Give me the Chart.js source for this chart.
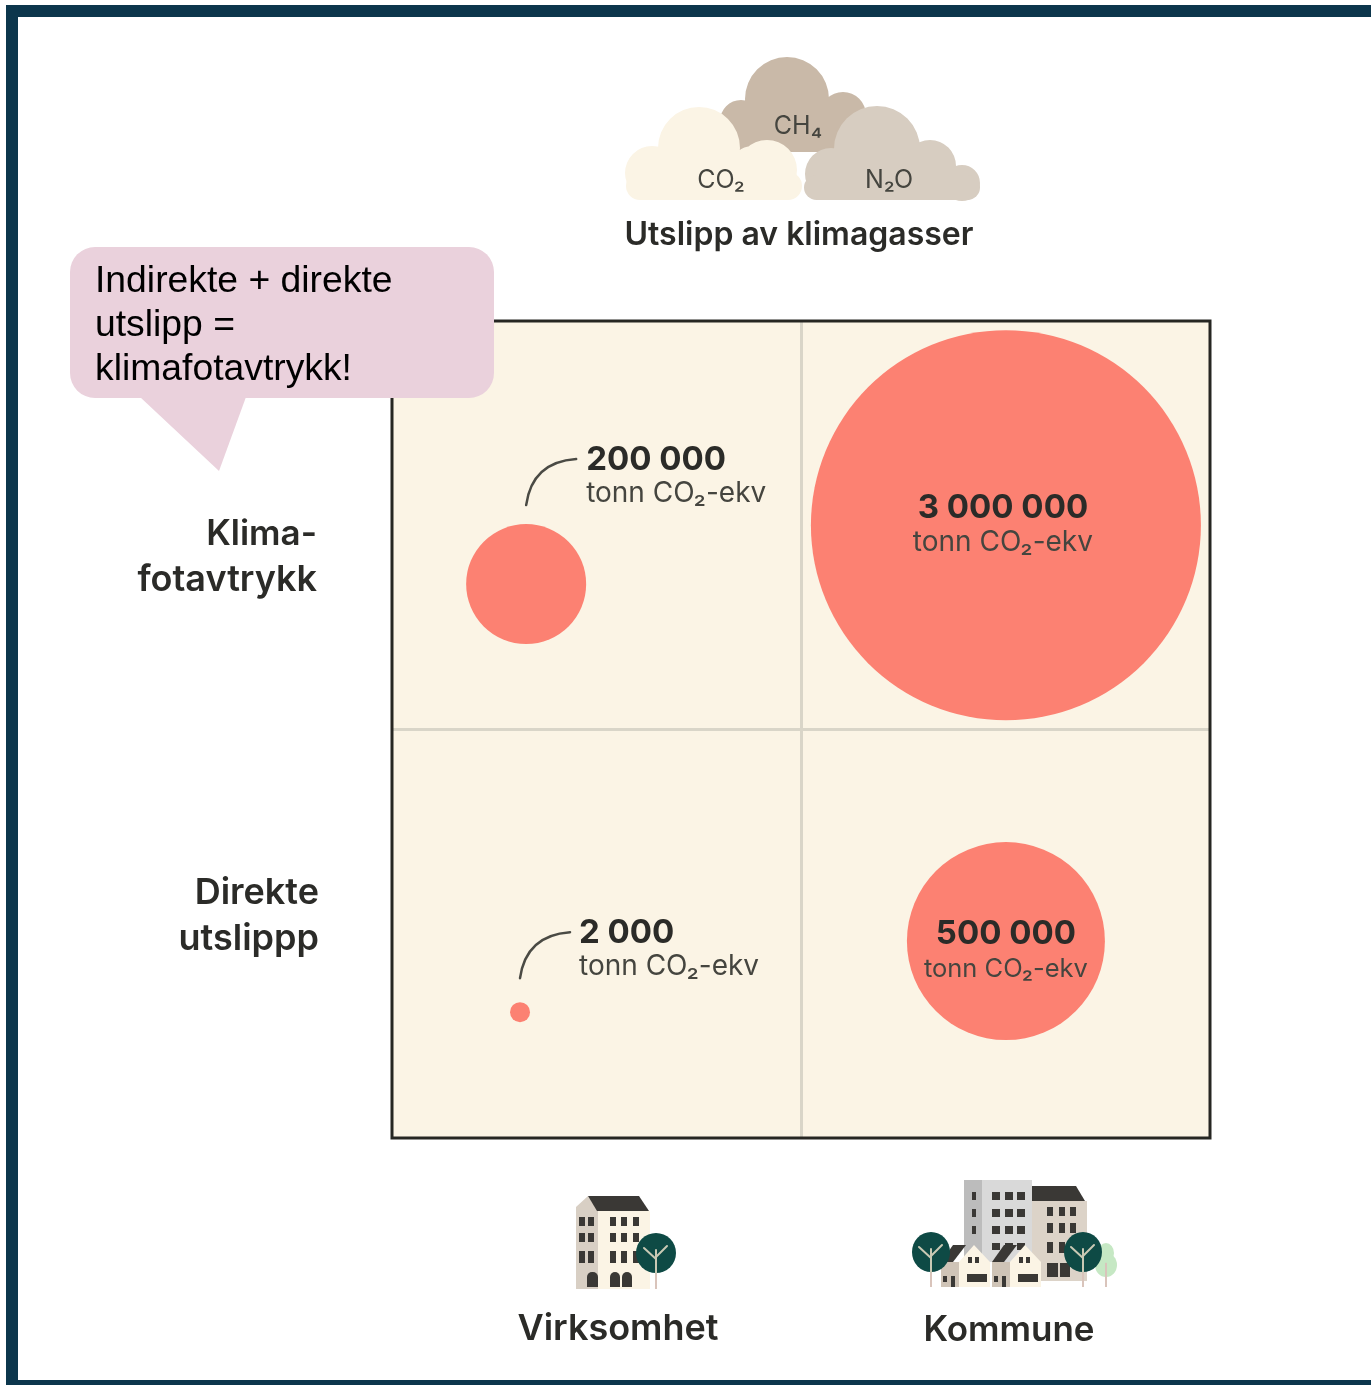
<!DOCTYPE html>
<html lang="no">
<head>
  <meta charset="UTF-8" />
  <title>Utslipp av klimagasser</title>
  <script src="https://cdn.jsdelivr.net/npm/chart.js"></script>
  <style>
    body { margin: 0; background: #fff; }
    canvas { display: block; }
  </style>
</head>
<body>
  <canvas id="footprintChart" width="1371" height="1385"></canvas>

  <script>
    // Values
    const columns = ['Virksomhet', 'Kommune'];
    const rows = [['Klima-', 'fotavtrykk'], ['Direkte', 'utslippp']];
    const valueLabels = ['200 000', '3 000 000', '2 000', '500 000'];
    const bubbleX = [0.328, 1.501, 0.313, 1.501];
    const bubbleY = [1.356, 1.5, 0.308, 0.482];
    const bubbleR = [60, 195, 10, 99];
    const unit = 'tonn CO₂-ekv';
    const calloutLines = ['Indirekte + direkte', 'utslipp =', 'klimafotavtrykk!'];

    const FONT = 'Inter, "Noto Sans", sans-serif';
    const INK = '#2b2b28';
    const SOFT = '#45453f';

    function text(ctx, str, x, y, font, color, align = 'left', spacing = '0px') {
      ctx.font = font;
      ctx.fillStyle = color;
      ctx.textAlign = align;
      ctx.textBaseline = 'alphabetic';
      ctx.letterSpacing = spacing;
      ctx.fillText(str, x, y);
      ctx.letterSpacing = '0px';
    }

    function poly(ctx, color, pts) {
      ctx.fillStyle = color;
      ctx.beginPath();
      pts.forEach((p, i) => i ? ctx.lineTo(p[0], p[1]) : ctx.moveTo(p[0], p[1]));
      ctx.closePath();
      ctx.fill();
    }

    function box(ctx, color, x0, y0, x1, y1) {
      ctx.fillStyle = color;
      ctx.fillRect(x0, y0, x1 - x0, y1 - y0);
    }

    function blob(ctx, color, circles, rects) {
      ctx.fillStyle = color;
      ctx.beginPath();
      circles.forEach(c => { ctx.moveTo(c[0] + c[2], c[1]); ctx.arc(c[0], c[1], c[2], 0, Math.PI * 2); });
      ctx.fill();
      rects.forEach(r => {
        ctx.beginPath();
        ctx.roundRect(r[0], r[1], r[2] - r[0], r[3] - r[1], r[4] || 0);
        ctx.fill();
      });
    }

    function drawClouds(ctx) {
      blob(ctx, '#c9b9a8',
        [[787, 99, 42], [741, 121, 21], [843, 115, 23]],
        [[722, 117, 866, 140, 0], [730, 130, 845, 152, 10]]);
      blob(ctx, '#fbf4e5',
        [[699, 148, 41], [652, 173, 27], [767, 170, 30], [752, 166, 20]],
        [[626, 172, 802, 200, 14], [700, 165, 770, 190, 0]]);
      blob(ctx, '#d7cdc1',
        [[877, 149, 43], [831, 174, 26], [930, 166, 26], [962, 183, 18]],
        [[804, 175, 980, 200, 14], [840, 160, 945, 190, 0]]);
      text(ctx, 'CH₄', 798, 134, '400 25px ' + FONT, SOFT, 'center');
      text(ctx, 'CO₂', 721, 188, '400 25px ' + FONT, SOFT, 'center');
      text(ctx, 'N₂O', 889, 188, '400 25px ' + FONT, SOFT, 'center');
      text(ctx, 'Utslipp av klimagasser', 799, 245, '600 32px ' + FONT, INK, 'center');
    }

    function windows(ctx, xs, ys, w, color = '#3a3835') {
      ys.forEach(y => xs.forEach(x => box(ctx, color, x, y[0], x + w, y[1])));
    }

    function tree(ctx, x, y, rx, ry, bottom, green, trunk) {
      box(ctx, '#d9c4bb', x - 1, y, x + 1, bottom);
      ctx.fillStyle = green;
      ctx.beginPath();
      ctx.ellipse(x, y, rx, ry, 0, 0, Math.PI * 2);
      ctx.fill();
      if (!trunk) return;
      ctx.strokeStyle = trunk;
      ctx.lineWidth = 2;
      ctx.beginPath();
      ctx.moveTo(x, y + ry); ctx.lineTo(x, y - 3);
      ctx.moveTo(x, y + 6); ctx.lineTo(x - 12, y - 5);
      ctx.moveTo(x, y + 4); ctx.lineTo(x + 11, y - 7);
      ctx.stroke();
    }

    function drawOffice(ctx) {
      poly(ctx, '#d8cfc4', [[576, 1207], [588, 1196], [598, 1211], [598, 1289], [576, 1289]]);
      box(ctx, '#fbf4e5', 598, 1211, 650, 1289);
      poly(ctx, '#3a3835', [[588, 1196], [639, 1196], [649, 1211], [597, 1211]]);
      const rowsY = [[1217, 1226], [1233, 1242], [1251, 1263]];
      windows(ctx, [579, 588, 610, 621, 633], rowsY, 6);
      [[587, 1272], [610, 1272], [622, 1272]].forEach(d => {
        ctx.fillStyle = '#3a3835';
        ctx.beginPath();
        ctx.roundRect(d[0], d[1], d[0] === 587 ? 11 : 10, 15, [5, 5, 0, 0]);
        ctx.fill();
      });
      tree(ctx, 656, 1253, 20, 20, 1289, '#0e4a45', '#c9c9b4');
    }

    function drawHouse(ctx, dx) {
      box(ctx, '#cfc4b7', 941 + dx, 1262, 960 + dx, 1287);
      poly(ctx, '#fbf4e5', [[959 + dx, 1262], [974 + dx, 1245], [990 + dx, 1262], [990 + dx, 1287], [959 + dx, 1287]]);
      poly(ctx, '#3a3835', [[953 + dx, 1245], [966 + dx, 1245], [953 + dx, 1262], [941 + dx, 1262]]);
      windows(ctx, [968 + dx, 975 + dx], [[1257, 1263]], 4);
      box(ctx, '#3a3835', 967 + dx, 1274, 987 + dx, 1282);
      box(ctx, '#3a3835', 943 + dx, 1276, 947 + dx, 1282);
      box(ctx, '#3a3835', 951 + dx, 1276, 955 + dx, 1287);
    }

    function drawTown(ctx) {
      box(ctx, '#dcd3c8', 1032, 1201, 1087, 1281);
      poly(ctx, '#3a3835', [[1032, 1186], [1076, 1186], [1085, 1201], [1032, 1201]]);
      windows(ctx, [1047, 1059, 1070], [[1207, 1216], [1223, 1233], [1242, 1253]], 6);
      box(ctx, '#3a3835', 1047, 1263, 1058, 1277);
      box(ctx, '#3a3835', 1060, 1263, 1070, 1277);

      box(ctx, '#bcbcbc', 964, 1180, 982, 1262);
      box(ctx, '#d9d9d9', 982, 1180, 1032, 1262);
      windows(ctx, [972], [[1192, 1200], [1209, 1217], [1226, 1234]], 4);
      windows(ctx, [992, 1005, 1017], [[1192, 1200], [1209, 1217], [1226, 1234], [1243, 1250]], 8);

      drawHouse(ctx, 0);
      drawHouse(ctx, 51);

      tree(ctx, 1106, 1265, 11, 12, 1287, '#c6e8c4');
      tree(ctx, 1106, 1253, 8, 10, 1287, '#c6e8c4');
      tree(ctx, 931, 1252, 19, 20, 1287, '#0e4a45', '#c9c9b4');
      tree(ctx, 1083, 1252, 19, 20, 1287, '#0e4a45', '#c9c9b4');
    }

    function drawCallout(ctx) {
      ctx.fillStyle = '#ead1dc';
      ctx.beginPath();
      ctx.roundRect(70, 247, 424, 151, 25);
      ctx.fill();
      poly(ctx, '#ead1dc', [[140, 397], [219, 471], [246, 397]]);
      calloutLines.forEach((line, i) => {
        text(ctx, line, 95, 292 + i * 44, '37.3px "Liberation Sans", Arial, sans-serif', '#000');
      });
    }

    function leader(ctx, x, y) {
      ctx.strokeStyle = '#4a4a44';
      ctx.lineWidth = 2.5;
      ctx.lineCap = 'round';
      ctx.beginPath();
      ctx.moveTo(x, y + 46);
      ctx.quadraticCurveTo(x + 6, y + 3, x + 50, y);
      ctx.stroke();
    }

    const annotations = {
      id: 'annotations',
      beforeDraw(chart) {
        const { ctx, chartArea: a } = chart;
        ctx.save();
        ctx.fillStyle = '#fbf4e5';
        ctx.fillRect(a.left, a.top, a.width, a.height);
        ctx.restore();
      },
      beforeDatasetsDraw(chart) {
        // dark edge of the square goes over the ends of the pale grid lines
        const { ctx, chartArea: a } = chart;
        ctx.save();
        ctx.strokeStyle = '#262622';
        ctx.lineWidth = 3;
        ctx.strokeRect(a.left, a.top, a.width, a.height);
        ctx.restore();
      },
      afterDraw(chart) {
        const { ctx } = chart;
        const pts = chart.getDatasetMeta(0).data;
        ctx.save();

        // frame round the picture
        ctx.strokeStyle = '#0c364c';
        ctx.lineWidth = 12;
        ctx.strokeRect(12, 11, 1500, 1375);

        // labels beside the two small bubbles
        [[0, 60, -125], [2, 59, -80]].forEach(([i, dx, dy]) => {
          const x = pts[i].x + dx, y = pts[i].y + dy;
          leader(ctx, pts[i].x, y);
          text(ctx, valueLabels[i], x, y + 11, '700 33px ' + FONT, INK);
          text(ctx, unit, x, y + 43, '400 28px ' + FONT, SOFT);
        });
        // labels inside the two large bubbles
        text(ctx, valueLabels[1], pts[1].x - 3, pts[1].y - 7, '700 33px ' + FONT, INK, 'center');
        text(ctx, unit, pts[1].x - 3, pts[1].y + 26, '400 28px ' + FONT, SOFT, 'center');
        text(ctx, valueLabels[3], pts[3].x, pts[3].y + 3, '700 33px ' + FONT, INK, 'center');
        text(ctx, unit, pts[3].x, pts[3].y + 36, '400 25.5px ' + FONT, SOFT, 'center');

        // row and column headings
        const heading = '600 36px ' + FONT;
        text(ctx, rows[0][0], 317, 545, '600 35px ' + FONT, INK, 'right');
        text(ctx, rows[0][1], 317, 591, heading, INK, 'right');
        text(ctx, rows[1][0], 319, 904, heading, INK, 'right');
        text(ctx, rows[1][1], 319, 950, heading, INK, 'right');
        text(ctx, columns[0], 618, 1340, heading, INK, 'center');
        text(ctx, columns[1], 1009, 1341, '600 35px ' + FONT, INK, 'center');

        drawClouds(ctx);
        drawOffice(ctx);
        drawTown(ctx);
        drawCallout(ctx);
        ctx.restore();
      }
    };

    // only the middle grid line of each axis shows, the edges are drawn by the plugin
    const axis = () => ({
      type: 'linear',
      min: 0,
      max: 2,
      ticks: { display: false, stepSize: 1 },
      border: { display: false },
      grid: {
        drawTicks: false,
        color: c => c.tick.value === 1 ? '#d9d5c8' : 'transparent',
        lineWidth: 3
      }
    });

    new Chart(document.getElementById('footprintChart'), {
      type: 'bubble',
      data: {
        datasets: [{
          label: unit,
          data: bubbleX.map((x, i) => ({ x: x, y: bubbleY[i], r: bubbleR[i] })),
          backgroundColor: '#fc8172',
          borderWidth: 0,
          clip: false
        }]
      },
      options: {
        responsive: false,
        animation: false,
        layout: { autoPadding: false, padding: { left: 392, top: 321, right: 161, bottom: 247 } },
        plugins: { legend: { display: false }, tooltip: { enabled: false } },
        scales: { x: axis(), y: axis() }
      },
      plugins: [annotations]
    });
  </script>
</body>
</html>
